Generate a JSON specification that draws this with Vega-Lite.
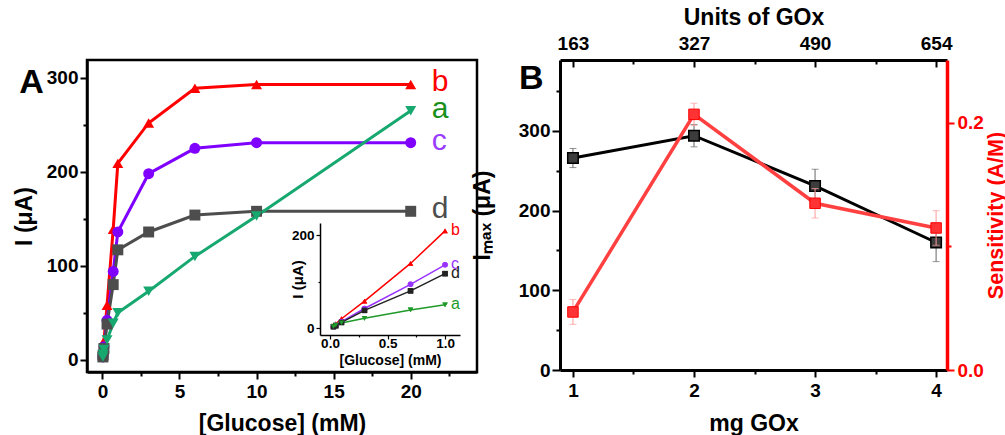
{
  "$schema": "https://vega.github.io/schema/vega-lite/v6.json",
  "background": "white",
  "padding": {"left": 12, "top": 6, "right": 0, "bottom": 0},
  "datasets": {
    "glu": [
      {"s": "b", "x": 0.03, "y": 5}, {"s": "b", "x": 0.05, "y": 9}, {"s": "b", "x": 0.1, "y": 20}, {"s": "b", "x": 0.3, "y": 58}, {"s": "b", "x": 0.7, "y": 139}, {"s": "b", "x": 1, "y": 209}, {"s": "b", "x": 3, "y": 252}, {"s": "b", "x": 6, "y": 289}, {"s": "b", "x": 10, "y": 293}, {"s": "b", "x": 20, "y": 293},
      {"s": "c", "x": 0.03, "y": 3}, {"s": "c", "x": 0.05, "y": 6}, {"s": "c", "x": 0.1, "y": 14}, {"s": "c", "x": 0.3, "y": 42}, {"s": "c", "x": 0.7, "y": 94}, {"s": "c", "x": 1, "y": 136}, {"s": "c", "x": 3, "y": 198}, {"s": "c", "x": 6, "y": 225}, {"s": "c", "x": 10, "y": 231}, {"s": "c", "x": 20, "y": 231},
      {"s": "d", "x": 0.03, "y": 3}, {"s": "d", "x": 0.05, "y": 5}, {"s": "d", "x": 0.1, "y": 12}, {"s": "d", "x": 0.3, "y": 38}, {"s": "d", "x": 0.7, "y": 80}, {"s": "d", "x": 1, "y": 117}, {"s": "d", "x": 3, "y": 136}, {"s": "d", "x": 6, "y": 154}, {"s": "d", "x": 10, "y": 158}, {"s": "d", "x": 20, "y": 158},
      {"s": "a", "x": 0.03, "y": 3}, {"s": "a", "x": 0.05, "y": 6}, {"s": "a", "x": 0.1, "y": 11}, {"s": "a", "x": 0.3, "y": 21}, {"s": "a", "x": 0.7, "y": 39}, {"s": "a", "x": 1, "y": 50}, {"s": "a", "x": 3, "y": 73}, {"s": "a", "x": 6, "y": 110}, {"s": "a", "x": 10, "y": 153}, {"s": "a", "x": 20, "y": 265}
    ],
    "gox": [
      {"mg": 1, "imax": 266, "imax_lo": 254, "imax_hi": 278, "sens": 0.047, "sens_lo": 0.037, "sens_hi": 0.057},
      {"mg": 2, "imax": 294, "imax_lo": 280, "imax_hi": 308, "sens": 0.207, "sens_lo": 0.198, "sens_hi": 0.216},
      {"mg": 3, "imax": 231, "imax_lo": 210, "imax_hi": 252, "sens": 0.135, "sens_lo": 0.123, "sens_hi": 0.147},
      {"mg": 4, "imax": 160, "imax_lo": 136, "imax_hi": 184, "sens": 0.115, "sens_lo": 0.101, "sens_hi": 0.129}
    ]
  },
  "config": {
    "font": "Liberation Sans",
    "axis": {
      "labelFont": "Liberation Sans", "labelFontWeight": "bold", "labelFontSize": 19, "labelColor": "black",
      "titleFont": "Liberation Sans", "titleFontWeight": "bold", "titleFontSize": 23, "titleColor": "black",
      "domainColor": "black", "domainWidth": 2.5, "tickColor": "black", "tickWidth": 2, "grid": false
    },
    "view": {"stroke": "black", "strokeWidth": 2.5},
    "legend": {"disable": true},
    "concat": {"spacing": -8}
  },
  "hconcat": [
    {
      "width": 390,
      "height": 312,
      "data": {"name": "glu"},
      "title": {"text": "A", "anchor": "start", "frame": "bounds", "fontSize": 34, "fontWeight": "bold", "font": "Liberation Sans", "offset": -40, "dx": 6, "color": "black"},
      "layer": [
        {
          "encoding": {
            "x": {"field": "x", "type": "quantitative", "scale": {"domain": [-1, 24.3], "nice": false, "zero": false},
              "axis": {"title": "[Glucose] (mM)", "values": [0, 2.5, 5, 7.5, 10, 12.5, 15, 17.5, 20, 22.5], "format": ".0f",
                "labelExpr": "datum.value % 5 === 0 ? datum.label : ''",
                "tickSize": {"condition": {"test": "datum.value % 5 === 0", "value": 7}, "value": 4},
                "labelPadding": 3, "titlePadding": 11}},
            "y": {"field": "y", "type": "quantitative", "scale": {"domain": [-13, 319], "nice": false, "zero": false},
              "axis": {"title": "I (μA)", "values": [0, 50, 100, 150, 200, 250, 300],
                "labelExpr": "datum.value % 100 === 0 ? datum.label : ''",
                "tickSize": {"condition": {"test": "datum.value % 100 === 0", "value": 7}, "value": 4},
                "labelPadding": 2, "titlePadding": 10}},
            "color": {"field": "s", "type": "nominal", "scale": {"domain": ["a", "b", "c", "d"], "range": ["#17a870", "#ff0000", "#7f00ff", "#4d4d4d"]}},
            "shape": {"field": "s", "type": "nominal", "scale": {"domain": ["a", "b", "c", "d"], "range": ["triangle-down", "triangle-up", "circle", "square"]}}
          },
          "layer": [
            {"mark": {"type": "line", "strokeWidth": 3}},
            {"mark": {"type": "point", "filled": true, "size": 120, "opacity": 1}},
            {"transform": [{"filter": "datum.x == 20"}],
             "mark": {"type": "text", "align": "left", "baseline": "middle", "dx": 21, "dy": -2, "fontSize": 30, "font": "Liberation Sans"},
             "encoding": {
               "text": {"field": "s", "type": "nominal"},
               "color": {"condition": [{"test": "datum.s === 'a'", "value": "#1a901a"}, {"test": "datum.s === 'c'", "value": "#9a3cff"}], "field": "s", "type": "nominal"}}}
          ]
        },
        {
          "transform": [{"filter": "datum.x <= 1"}],
          "encoding": {
            "x": {"field": "x", "type": "quantitative", "scale": {"domain": [-0.087, 1.13], "range": [233, 373], "nice": false, "zero": false},
              "axis": {"orient": "bottom", "offset": -37, "title": "[Glucose] (mM)", "values": [0, 0.25, 0.5, 0.75, 1], "format": ".1f",
                "labelExpr": "datum.value % 0.5 === 0 ? datum.label : ''",
                "tickSize": {"condition": {"test": "datum.value % 0.5 === 0", "value": 4}, "value": 2},
                "labelFontSize": 13.5, "titleFontSize": 14, "domainWidth": 1.5, "tickWidth": 1.2, "labelPadding": -3, "titlePadding": 4}},
            "y": {"field": "y", "type": "quantitative", "scale": {"domain": [-15, 226], "range": [275, 163], "nice": false, "zero": false},
              "axis": {"orient": "left", "offset": -233, "title": "I (μA)", "values": [0, 100, 200],
                "labelExpr": "datum.value === 100 ? '' : datum.label",
                "tickSize": {"condition": {"test": "datum.value === 100", "value": 2}, "value": 4},
                "labelFontSize": 13.5, "titleFontSize": 15, "domainWidth": 1.5, "tickWidth": 1.2, "labelPadding": 2, "titlePadding": -14}},
            "color": {"field": "s", "type": "nominal", "scale": {"domain": ["a", "b", "c", "d"], "range": ["#1f9a2a", "#ff0000", "#9933ff", "#222222"]}},
            "shape": {"field": "s", "type": "nominal", "scale": {"domain": ["a", "b", "c", "d"], "range": ["triangle-down", "triangle-up", "circle", "square"]}}
          },
          "layer": [
            {"data": {"values": [{}]},
             "mark": {"type": "rect", "fill": "white", "stroke": "black", "strokeWidth": 1.5},
             "encoding": {"x": {"datum": -0.087, "type": "quantitative"}, "x2": {"datum": 1.13}, "y": {"datum": -15, "type": "quantitative"}, "y2": {"datum": 226}, "color": {"value": "black"}, "shape": null}},
            {"mark": {"type": "line", "strokeWidth": 1.5}},
            {"mark": {"type": "point", "filled": true, "size": 30, "opacity": 1}},
            {"transform": [{"filter": "datum.x == 1"}],
             "mark": {"type": "text", "align": "left", "baseline": "middle", "dx": 6, "dy": -1, "fontSize": 16, "font": "Liberation Sans"},
             "encoding": {"text": {"field": "s", "type": "nominal"}}}
          ]
        }
      ],
      "resolve": {"scale": {"x": "independent", "y": "independent", "color": "independent", "shape": "independent"}, "axis": {"x": "independent", "y": "independent"}}
    },
    {
      "width": 387,
      "height": 310,
      "data": {"name": "gox"},
      "view": {"stroke": null},
      "title": {"text": "B", "anchor": "start", "frame": "group", "fontSize": 34, "fontWeight": "bold", "font": "Liberation Sans", "offset": -90, "dx": -41, "color": "black"},
      "layer": [
        {
          "encoding": {
            "x": {"field": "mg", "type": "quantitative", "scale": {"domain": [0.893, 4.09], "nice": false, "zero": false},
              "axis": {"orient": "bottom", "title": "mg GOx", "values": [1, 1.5, 2, 2.5, 3, 3.5, 4], "format": ".0f",
                "labelExpr": "datum.value % 1 === 0 ? datum.label : ''",
                "tickSize": {"condition": {"test": "datum.value % 1 === 0", "value": 7}, "value": 4},
                "domainWidth": 3, "labelPadding": 4, "titlePadding": 12}}
          },
          "layer": [
            {"mark": {"type": "line", "color": "black", "strokeWidth": 3},
             "encoding": {"y": {"field": "imax", "type": "quantitative", "title": "Iₘₐₓ (μA)", "scale": {"domain": [0, 389], "nice": false, "zero": false},
               "axis": {"orient": "left", "title": "Iₘₐₓ (μA)", "values": [0, 50, 100, 150, 200, 250, 300, 350],
                 "labelExpr": "datum.value % 100 === 0 ? datum.label : ''",
                 "tickSize": {"condition": {"test": "datum.value % 100 === 0", "value": 8}, "value": 4},
                 "domainWidth": 3, "labelPadding": 2, "titleX": -66}}}},
            {"mark": {"type": "errorbar", "ticks": {"color": "#666666", "size": 7}, "rule": {"color": "#666666", "strokeWidth": 1}},
             "encoding": {"y": {"field": "imax_lo", "type": "quantitative", "title": "Iₘₐₓ (μA)"}, "y2": {"field": "imax_hi"}}},
            {"mark": {"type": "point", "shape": "square", "filled": true, "size": 110, "fill": "#3c3c3c", "stroke": "black", "strokeWidth": 1.5, "opacity": 1},
             "encoding": {"y": {"field": "imax", "type": "quantitative", "title": "Iₘₐₓ (μA)"}}}
          ]
        },
        {
          "encoding": {
            "x": {"field": "mg", "type": "quantitative",
              "axis": {"orient": "top", "title": "Units of GOx", "values": [1, 1.5, 2, 2.5, 3, 3.5, 4],
                "labelExpr": "datum.value === 1 ? '163' : datum.value === 2 ? '327' : datum.value === 3 ? '490' : datum.value === 4 ? '654' : ''",
                "tickSize": {"condition": {"test": "datum.value % 1 === 0", "value": -7}, "value": -4},
                "domainWidth": 3, "labelPadding": 14, "titlePadding": 5}}
          },
          "layer": [
            {"mark": {"type": "errorbar", "ticks": {"color": "#ff9999", "size": 7}, "rule": {"color": "#ff9999", "strokeWidth": 1}},
             "encoding": {"y": {"field": "sens_lo", "type": "quantitative", "title": "Sensitivity (A/M)"}, "y2": {"field": "sens_hi"}}},
            {"mark": {"type": "line", "color": "#ff4040", "strokeWidth": 3.5},
             "encoding": {"y": {"field": "sens", "type": "quantitative", "title": "Sensitivity (A/M)", "scale": {"domain": [0, 0.251], "nice": false, "zero": false},
               "axis": {"orient": "right", "title": "Sensitivity (A/M)", "values": [0, 0.1, 0.2], "format": ".1f",
                 "labelExpr": "datum.value === 0.1 ? '' : datum.label",
                 "tickSize": {"condition": {"test": "datum.value === 0.1", "value": 4}, "value": 7},
                 "domainColor": "#ff0000", "domainWidth": 3.5, "tickColor": "#ff0000", "labelColor": "#ff0000", "titleColor": "#ff0000",
                 "titleFontSize": 21.5, "titleAngle": 270, "titleBaseline": "top", "labelPadding": 3, "titlePadding": 2}}}},
            {"mark": {"type": "point", "shape": "square", "filled": true, "size": 110, "fill": "#ff3333", "stroke": "#ff0000", "strokeWidth": 1, "opacity": 1},
             "encoding": {"y": {"field": "sens", "type": "quantitative", "title": "Sensitivity (A/M)"}}}
          ]
        }
      ],
      "resolve": {"scale": {"y": "independent"}, "axis": {"x": "independent", "y": "independent"}}
    }
  ]
}
